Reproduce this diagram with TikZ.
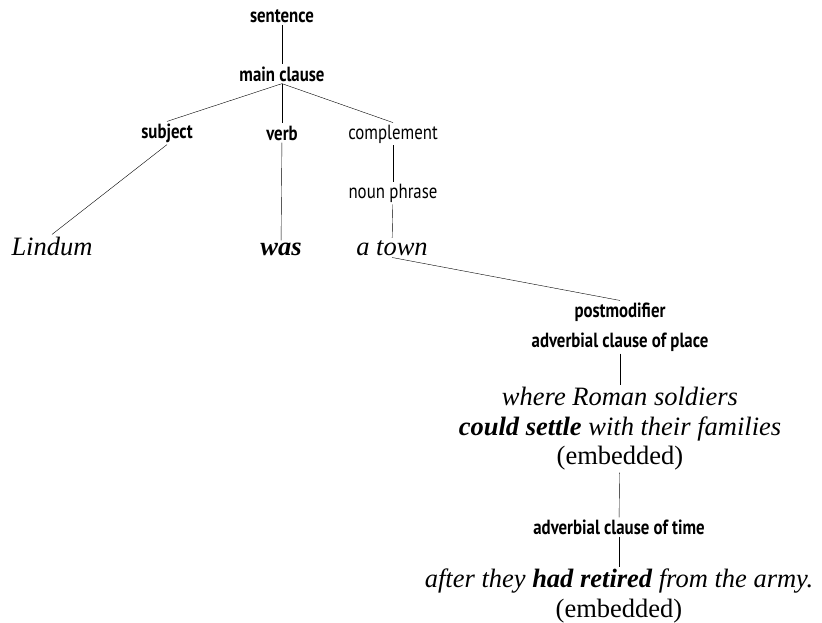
\documentclass[tikz,border=0pt]{standalone}
\usepackage{fontspec}
\setmainfont{Liberation Serif}
\newfontfamily\labfont[FakeStretch=0.82]{PT Sans}
\usepackage{tikz}

\tikzset{
  lab/.style={font=\labfont\bfseries\fontsize{20.5}{20.5}\selectfont, inner sep=2pt},
  lablight/.style={lab, font=\labfont\mdseries\fontsize{20.5}{20.5}\selectfont},
  sen/.style={font=\fontsize{26.5}{29.5}\selectfont\itshape, align=center, inner sep=2pt}
}

\begin{document}
\begin{tikzpicture}[x=1pt, y=-1pt]
          \useasboundingbox (0,0) rectangle (822,622);
          \node[lab] (sentence) at (282,16) {sentence};
          \node[lab] (main) at (282,74) {main clause};
          \node[lab] (subject) at (167,133) {subject};
          \node[lab] (verb) at (282,133) {verb};
          \node[lablight] (compl) at (393,134) {complement};
          \node[lablight] (np) at (393,193) {noun phrase};
          \node[sen, anchor=base] (lindum) at (52,255) {Lindum};
          \node[sen, anchor=base] (was) at (281,255) {\textbf{was}};
          \node[sen, anchor=base] (town) at (392,255) {a town};
          \node[lab] (post) at (620,312) {postmodifier};
          \node[lab] (place) at (620,342) {adverbial clause of place};
          \node[sen] (where) at (620,429) {where Roman soldiers\\
            \textbf{could settle} with their families\\ \upshape(embedded)};
          \node[lab] (time) at (619,527) {adverbial clause of time};
          \node[sen] (after) at (619,596) {after they \textbf{had retired} from the army.\\
            \upshape(embedded)};
          \draw (sentence) -- (main);
          \draw (main.south) -- (subject.north);
          \draw (main.south) -- (verb.north);
          \draw (main.south) -- (compl.north);
          \draw (subject.south) -- (lindum.north);
          \draw (verb) -- (was);
          \draw (compl) -- (np);
          \draw (np) -- (town);
          \draw (town.south) -- (post.north);
          \draw (place) -- (where);
          \draw (where) -- (time);
          \draw (time) -- (after);
        \end{tikzpicture}
\end{document}
